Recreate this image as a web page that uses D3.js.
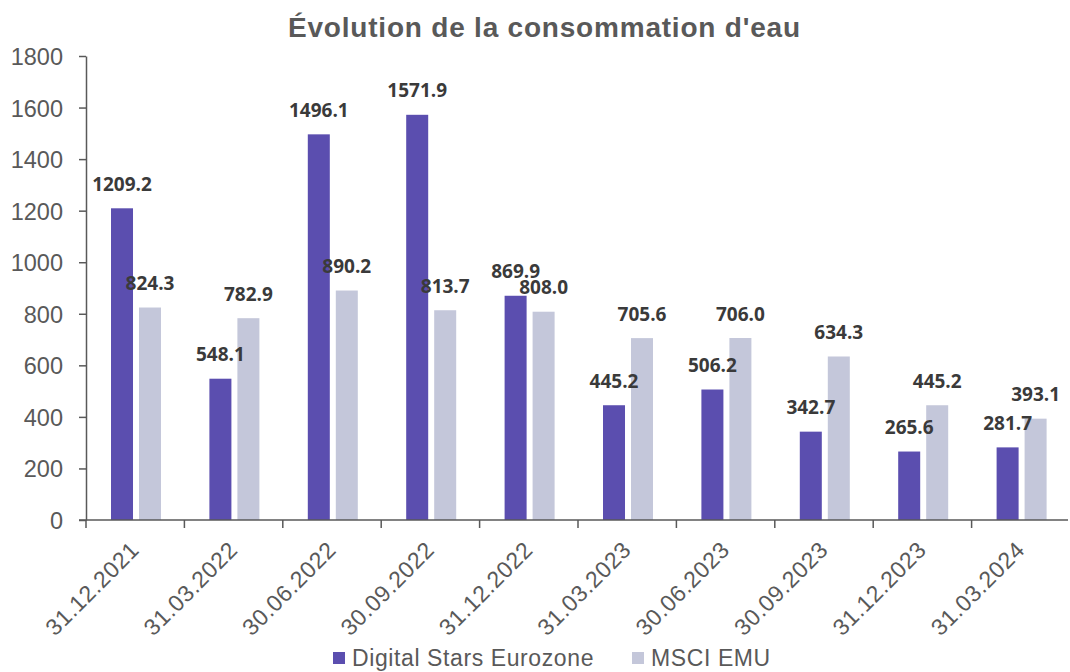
<!DOCTYPE html>
<html>
  <head>
    <meta charset="utf-8">
    <title>Évolution de la consommation d'eau</title>
    <script src="https://d3js.org/d3.v7.min.js"></script>
    <style>
      body { margin: 0; background: #fff; }
      #chart { display: block; }
      .axis path, .axis line { stroke: #595959; stroke-width: 1.5; }
      .axis text { fill: #595959; font-family: "Liberation Sans", Arial, sans-serif; font-size: 23.5px; }
      .axis .xlabel { font-size: 23px; letter-spacing: 0.6px; }
      .label { fill: #3a3a3a; font-family: "Open Sans", sans-serif; font-weight: bold; font-size: 19px; text-anchor: middle; }
      .title { fill: #595959; font-family: "Liberation Sans", Arial, sans-serif; font-weight: bold; font-size: 28px; text-anchor: middle; }
      .legend text { fill: #595959; font-family: "Liberation Sans", Arial, sans-serif; font-size: 23px; letter-spacing: 0.6px; }
    </style>
  </head>
  <body>
    <svg id="chart" width="1070" height="672"></svg>
    <script>
      // chart data
      var dates = ["31.12.2021", "31.03.2022", "30.06.2022", "30.09.2022", "31.12.2022",
                   "31.03.2023", "30.06.2023", "30.09.2023", "31.12.2023", "31.03.2024"];
      var seriesNames = ["Digital Stars Eurozone", "MSCI EMU"];
      var digitalStars = [1209.2, 548.1, 1496.1, 1571.9, 869.9, 445.2, 506.2, 342.7, 265.6, 281.7];
      var msciEmu = [824.3, 782.9, 890.2, 813.7, 808.0, 705.6, 706.0, 634.3, 445.2, 393.1];
      var yTicks = [0, 200, 400, 600, 800, 1000, 1200, 1400, 1600, 1800];
      var colours = ["#5b4eaf", "#c4c7da"];

      var rows = dates.map(function(d, i) {
        return { date: d, values: [digitalStars[i], msciEmu[i]] };
      });

      // page elements
      var margin = { top: 56, right: 0, bottom: 152, left: 86 };
      var width = 1070, height = 672;
      var chart = d3.select("#chart");

      // scales
      var x = d3.scaleBand()
        .domain(dates)
        .range([margin.left, width - margin.right])
        .padding(0);
      var x1 = d3.scaleBand()
        .domain(seriesNames)
        .range([-25, 25])
        .paddingInner(0.214);
      var y = d3.scaleLinear()
        .domain([0, 1800])
        .range([height - margin.bottom, margin.top]);

      // title
      chart.append("text")
        .attr("class", "title")
        .attr("x", 544)
        .attr("y", 37)
        .attr("textLength", 512)
        .attr("lengthAdjust", "spacing")
        .text("Évolution de la consommation d'eau");

      // bars
      var groups = chart.append("g")
        .selectAll("g")
        .data(rows)
        .join("g")
          .attr("transform", function(d) { return "translate(" + (x(d.date) + x.bandwidth() / 2 + 0.8) + ",0)"; });
      groups.selectAll("rect")
        .data(function(d) { return d.values.map(function(v, i) { return { name: seriesNames[i], value: v, i: i }; }); })
        .join("rect")
          .attr("x", function(d) { return x1(d.name); })
          .attr("width", x1.bandwidth())
          .attr("y", function(d) { return y(d.value); })
          .attr("height", function(d) { return y(0) - y(d.value); })
          .attr("fill", function(d) { return colours[d.i]; });
      groups.selectAll("text")
        .data(function(d) { return d.values.map(function(v, i) { return { name: seriesNames[i], value: v }; }); })
        .join("text")
          .attr("class", "label")
          .attr("x", function(d) { return x1(d.name) + x1.bandwidth() / 2; })
          .attr("y", function(d) { return y(d.value) - 17.5; })
          .text(function(d) { return d.value.toFixed(1); });

      // axes
      var yAxis = d3.axisLeft(y)
        .tickValues(yTicks)
        .tickFormat(d3.format("d"))
        .tickSizeInner(7)
        .tickSizeOuter(0)
        .tickPadding(16);
      chart.append("g")
        .attr("class", "axis")
        .attr("transform", "translate(" + margin.left + ",0)")
        .call(yAxis)
        .call(function(g) { g.selectAll("text").attr("dy", "0.36em"); });

      var xAxisGroup = chart.append("g")
        .attr("class", "axis")
        .attr("transform", "translate(0," + y(0) + ")");
      xAxisGroup.append("line")
        .attr("x1", margin.left - 7)
        .attr("x2", width - 2);
      // ticks sit between categories
      xAxisGroup.selectAll(".tick")
        .data(dates)
        .join("line")
          .attr("class", "tick")
          .attr("x1", function(d) { return x(d); })
          .attr("x2", function(d) { return x(d); })
          .attr("y1", 0)
          .attr("y2", 8);
      xAxisGroup.selectAll(".xlabel")
        .data(dates)
        .join("text")
          .attr("class", "xlabel")
          .attr("text-anchor", "end")
          .attr("transform", function(d) {
            return "translate(" + (x(d) + x.bandwidth() / 2 - 6) + ",20) rotate(-45)";
          })
          .attr("dy", "0.7em")
          .text(function(d) { return d; });

      // legend
      var legendX = [333, 632];
      var legend = chart.append("g")
        .attr("class", "legend")
        .selectAll("g")
        .data(seriesNames)
        .join("g")
          .attr("transform", function(d, i) { return "translate(" + legendX[i] + ",652)"; });
      legend.append("rect")
        .attr("width", 12)
        .attr("height", 12)
        .attr("fill", function(d, i) { return colours[i]; });
      legend.append("text")
        .attr("x", 19)
        .attr("y", 14)
        .text(function(d) { return d; });
    </script>
  </body>
</html>
